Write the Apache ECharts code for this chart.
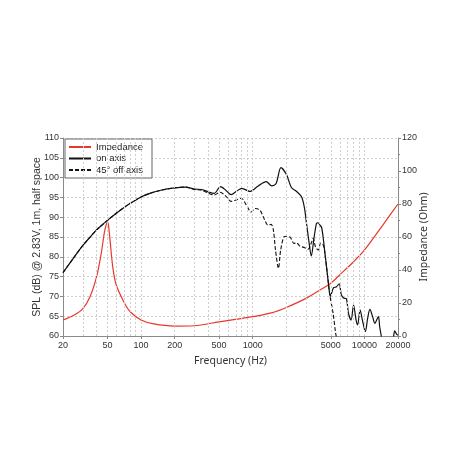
<!DOCTYPE html>
<html>
<head>
<meta charset="utf-8">
<script src="https://cdn.jsdelivr.net/npm/echarts@6/dist/echarts.min.js"></script>
<style>
  html, body { margin: 0; padding: 0; background: #fff; }
  #chart { width: 458px; height: 458px; }
</style>
</head>
<body>
<div id="chart"></div>
<script>
// frequency grid lines and labels (Hz)
const gridFreqs = [30, 40, 50, 60, 70, 80, 90, 100, 200, 300, 400, 500, 600, 700, 800, 900,
  1000, 2000, 3000, 4000, 5000, 6000, 7000, 8000, 9000, 10000]
const labelFreqs = [20, 50, 100, 200, 500, 1000, 5000, 10000, 20000]

// impedance (Ohm)
const impFreq = [20, 25, 30, 35, 40, 44, 47, 49, 50, 51, 52.6, 56, 60, 70, 80, 100, 130, 200, 300,
  500, 700, 1000, 1500, 2000, 3000, 4000, 5000, 6000, 8000, 10000, 15000, 20000]
const impVals = [9.7, 12.6, 16.5, 24, 36, 50, 63, 68, 69, 67.5, 59, 41, 30.9, 20.8, 14.7, 9.7, 7.3, 6.0, 6.2,
  8.6, 10.1, 11.7, 14.2, 17.3, 22.8, 27.9, 32, 37, 45, 52, 68.3, 80]

// SPL on axis (dB)
const onFreq = [20, 25, 30, 35, 40, 45, 50, 60, 70, 80, 100, 120, 150, 200, 250, 300, 350, 400, 450,
  515, 580, 640, 720, 800, 940, 1120, 1320, 1480, 1620, 1790, 2010, 2220, 2470, 2730, 2900, 3030,
  3200, 3345, 3530, 3720, 3850, 4000, 4140, 4290, 4450, 4600, 4800, 4950, 5080, 5300, 5600, 5950,
  6200, 6500, 6900, 7200, 7600, 8000, 8430, 8700, 9150, 9600, 10200, 10700, 11200, 11850, 12400,
  13350, 13700, 14200, 15000, 16500, 17800, 18300, 18700, 19400, 20000]
const onVals = [76, 79.8, 82.8, 85, 86.8, 88.1, 89.2, 91, 92.4, 93.5, 95.1, 96, 96.8, 97.4, 97.6, 97.1, 97.0, 96.4, 96.0,
  97.7, 96.7, 95.7, 96.6, 97.3, 96.5, 97.9, 99.0, 97.9, 98.5, 102.5, 100.7, 97.5, 96.5, 95.2, 92.5, 88.5,
  83.5, 80.2, 84.5, 88.4, 88.6, 88.0, 87.4, 84.5, 80.5, 77, 72.5, 70.0, 70.8, 72.2, 72.4, 73.2,
  70.5, 69.6, 69.4, 65.8, 64.0, 67.8, 64.0, 62.8, 66.6, 64.0, 61.1, 64.5, 66.7, 64.9, 63.2,
  64.9, 62.4, 59.8, 55, 52, 56, 60, 61.3, 60.5, 60.2]

// SPL 45° off axis (dB)
const offFreq = [20, 25, 30, 35, 40, 45, 50, 60, 70, 80, 100, 120, 150, 200, 250, 300, 350, 400, 450,
  510, 580, 640, 720, 790, 880, 970, 1050, 1160, 1280, 1370, 1460, 1530, 1600, 1700, 1780, 1910,
  2010, 2170, 2340, 2470, 2650, 2920, 3130, 3340, 3480, 3650, 3870, 4060, 4280, 4430, 4580, 4730,
  4900, 5250, 5500, 5600, 5800]
const offVals = [76, 79.8, 82.8, 85, 86.8, 88.1, 89.2, 91, 92.4, 93.5, 95.1, 96, 96.8, 97.4, 97.6, 97.0, 96.8, 96.1, 95.6,
  96.3, 95.2, 94.0, 94.4, 94.8, 93.0, 91.3, 92.2, 91.8, 89.3, 88.0, 88.2, 86.8, 81.7, 77.1, 81.7, 85.1,
  85.2, 84.9, 83.4, 83.5, 82.7, 82.3, 81.9, 83.4, 84.7, 82.5, 81.7, 83.5, 83.0, 80.9, 77.5, 74.1,
  70.4, 65.7, 61.1, 59.8, 56]

const toXY = (fs, vs) => fs.map((f, i) => [Math.log10(f), vs[i]])

const chart = echarts.init(document.getElementById('chart'))

const axisGrey = '#8a8a8a'
const gridGrey = '#cfcfcf'
const labelStyle = {color: '#333', fontSize: 9, fontFamily: 'Liberation Sans, Arial, sans-serif'}

const option = {
  animation: false,
  backgroundColor: '#fff',
  grid: {left: 63, right: 60, top: 138, bottom: 122},
  legend: {
    orient: 'vertical',
    left: 65,
    top: 139,
    backgroundColor: '#fff',
    borderColor: '#666',
    borderWidth: 1,
    borderRadius: 0,
    padding: [3, 9, 3, 3],
    itemWidth: 22,
    itemHeight: 8,
    itemGap: 1.5,
    itemStyle: {color: 'transparent', borderWidth: 0, opacity: 0},
    textStyle: {fontSize: 9.5, color: '#222', fontFamily: 'Liberation Sans, Arial, sans-serif'},
    data: ['Impedance', 'on axis', '45° off axis']
  },
  xAxis: {
    type: 'value',
    min: Math.log10(20),
    max: Math.log10(20000),
    name: 'Frequency (Hz)',
    nameLocation: 'middle',
    nameGap: 20,
    nameTextStyle: {fontSize: 10.5, color: '#333', fontFamily: 'Noto Sans, sans-serif'},
    axisLine: {show: true, lineStyle: {color: axisGrey, width: 1}},
    axisTick: {show: true, length: 3, lineStyle: {color: axisGrey},
      customValues: labelFreqs.map(f => Math.log10(f))},
    axisLabel: {
      ...labelStyle,
      margin: 5,
      customValues: labelFreqs.map(f => Math.log10(f)),
      formatter: v => String(Math.round(Math.pow(10, v)))
    },
    splitLine: {show: false}
  },
  yAxis: [
    {
      type: 'value',
      min: 60,
      max: 110,
      interval: 5,
      name: 'SPL (dB) @ 2.83V, 1m, half space',
      nameLocation: 'middle',
      nameGap: 20,
      nameMoveOverlap: false,
      nameTextStyle: {fontSize: 10.5, color: '#333', fontFamily: 'Liberation Sans, Arial, sans-serif'},
      axisLine: {show: true, lineStyle: {color: axisGrey, width: 1}},
      axisTick: {show: true, length: 3, lineStyle: {color: axisGrey}},
      axisLabel: {...labelStyle, margin: 4},
      splitLine: {show: true, lineStyle: {color: gridGrey, type: [2, 2], width: 1}}
    },
    {
      type: 'value',
      position: 'right',
      min: 0,
      max: 120,
      interval: 20,
      name: 'Impedance (Ohm)',
      nameLocation: 'middle',
      nameGap: 21,
      nameMoveOverlap: false,
      nameTextStyle: {fontSize: 10.5, color: '#333', fontFamily: 'Noto Sans, sans-serif'},
      axisLine: {show: true, lineStyle: {color: axisGrey, width: 1}},
      axisTick: {show: true, length: 3, lineStyle: {color: axisGrey}},
      minorTick: {show: true, splitNumber: 2, length: 2, lineStyle: {color: axisGrey}},
      axisLabel: {...labelStyle, margin: 4},
      splitLine: {show: false}
    }
  ],
  series: [
    {
      // vertical log grid lines
      type: 'line',
      data: [],
      z: 1,
      silent: true,
      markLine: {
        silent: true,
        symbol: ['none', 'none'],
        label: {show: false},
        lineStyle: {color: gridGrey, type: [2, 2], width: 1},
        data: gridFreqs.map(f => ({xAxis: Math.log10(f)}))
      }
    },
    {
      name: 'Impedance',
      type: 'line',
      yAxisIndex: 1,
      data: toXY(impFreq, impVals),
      smooth: 0.3,
      symbol: 'none',
      lineStyle: {color: '#e8382d', width: 1.2},
      itemStyle: {color: '#e8382d'}
    },
    {
      name: 'on axis',
      type: 'line',
      yAxisIndex: 0,
      data: toXY(onFreq, onVals),
      smooth: 0.3,
      symbol: 'none',
      clip: true,
      lineStyle: {color: '#111', width: 1.2},
      itemStyle: {color: '#111'}
    },
    {
      name: '45° off axis',
      type: 'line',
      yAxisIndex: 0,
      data: toXY(offFreq, offVals),
      smooth: 0.3,
      symbol: 'none',
      clip: true,
      lineStyle: {color: '#111', width: 1.1, type: [4, 2]},
      itemStyle: {color: '#111'}
    }
  ]
}

chart.setOption(option)
</script>
</body>
</html>
